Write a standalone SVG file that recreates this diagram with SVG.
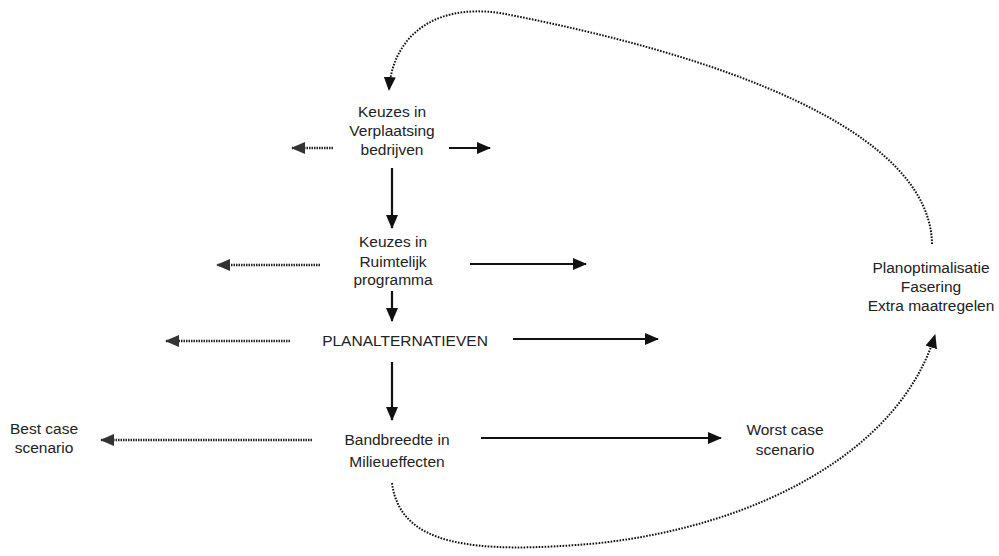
<svg xmlns="http://www.w3.org/2000/svg" width="999" height="556" viewBox="0 0 999 556">
<style>
text{font-family:"Liberation Sans",Arial,sans-serif;font-size:15.5px;fill:#222;text-anchor:middle}
.solid{stroke:#111;stroke-width:2.2;fill:none}
.dot{stroke:#222;stroke-width:2.4;fill:none;stroke-dasharray:1.5 1}
.curve{stroke:#111;stroke-width:2;fill:none;stroke-dasharray:1.6 1.4}
</style>
<defs>
<marker id="ah" markerUnits="userSpaceOnUse" markerWidth="14" markerHeight="12" refX="13" refY="6" orient="auto">
<path d="M0,0 L14,6 L0,12 Z" fill="#111"/>
</marker>
<marker id="ahd" markerUnits="userSpaceOnUse" markerWidth="14" markerHeight="12" refX="13" refY="6" orient="auto">
<path d="M0,0 L14,6 L0,12 Z" fill="#333"/>
</marker>
</defs>
<rect width="999" height="556" fill="#fff"/>
<g id="connectors">
<path class="dot" d="M333 148 L292 148" marker-end="url(#ahd)"/>
<path class="solid" d="M449 148 L490 148" marker-end="url(#ah)"/>
<path class="solid" d="M392 168 L392 228" marker-end="url(#ah)"/>
<path class="dot" d="M320 265 L217 265" marker-end="url(#ahd)"/>
<path class="solid" d="M470 264 L586 264" marker-end="url(#ah)"/>
<path class="solid" d="M392 291 L392 321" marker-end="url(#ah)"/>
<path class="dot" d="M290 341 L166 341" marker-end="url(#ahd)"/>
<path class="solid" d="M513 339 L658 339" marker-end="url(#ah)"/>
<path class="solid" d="M392 362 L392 420" marker-end="url(#ah)"/>
<path class="dot" d="M312 440 L101 440" marker-end="url(#ahd)"/>
<path class="solid" d="M481 438 L721 438" marker-end="url(#ah)"/>
<path class="curve" d="M932 244 C930 130,720 55,500 13 C430 3,392 40,389 90" marker-end="url(#ah)"/>
<path class="curve" d="M392 483 C400 545,470 555,600 543 C760 525,900 450,935 335" marker-end="url(#ah)"/>
</g>
<g id="keuzes-verplaatsing">
<text x="392" y="117">Keuzes in</text>
<text x="392" y="136">Verplaatsing</text>
<text x="392" y="155">bedrijven</text>
</g>
<g id="keuzes-ruimtelijk">
<text x="393" y="247">Keuzes in</text>
<text x="393" y="267">Ruimtelijk</text>
<text x="393" y="285">programma</text>
</g>
<g id="planalternatieven">
<text x="405" y="346">PLANALTERNATIEVEN</text>
</g>
<g id="bandbreedte">
<text x="397" y="445">Bandbreedte in</text>
<text x="397" y="467">Milieueffecten</text>
</g>
<g id="best-case">
<text x="44" y="434">Best case</text>
<text x="44" y="453">scenario</text>
</g>
<g id="worst-case">
<text x="785" y="435">Worst case</text>
<text x="785" y="455">scenario</text>
</g>
<g id="planoptimalisatie">
<text x="931" y="273">Planoptimalisatie</text>
<text x="931" y="292">Fasering</text>
<text x="931" y="311">Extra maatregelen</text>
</g>
</svg>
